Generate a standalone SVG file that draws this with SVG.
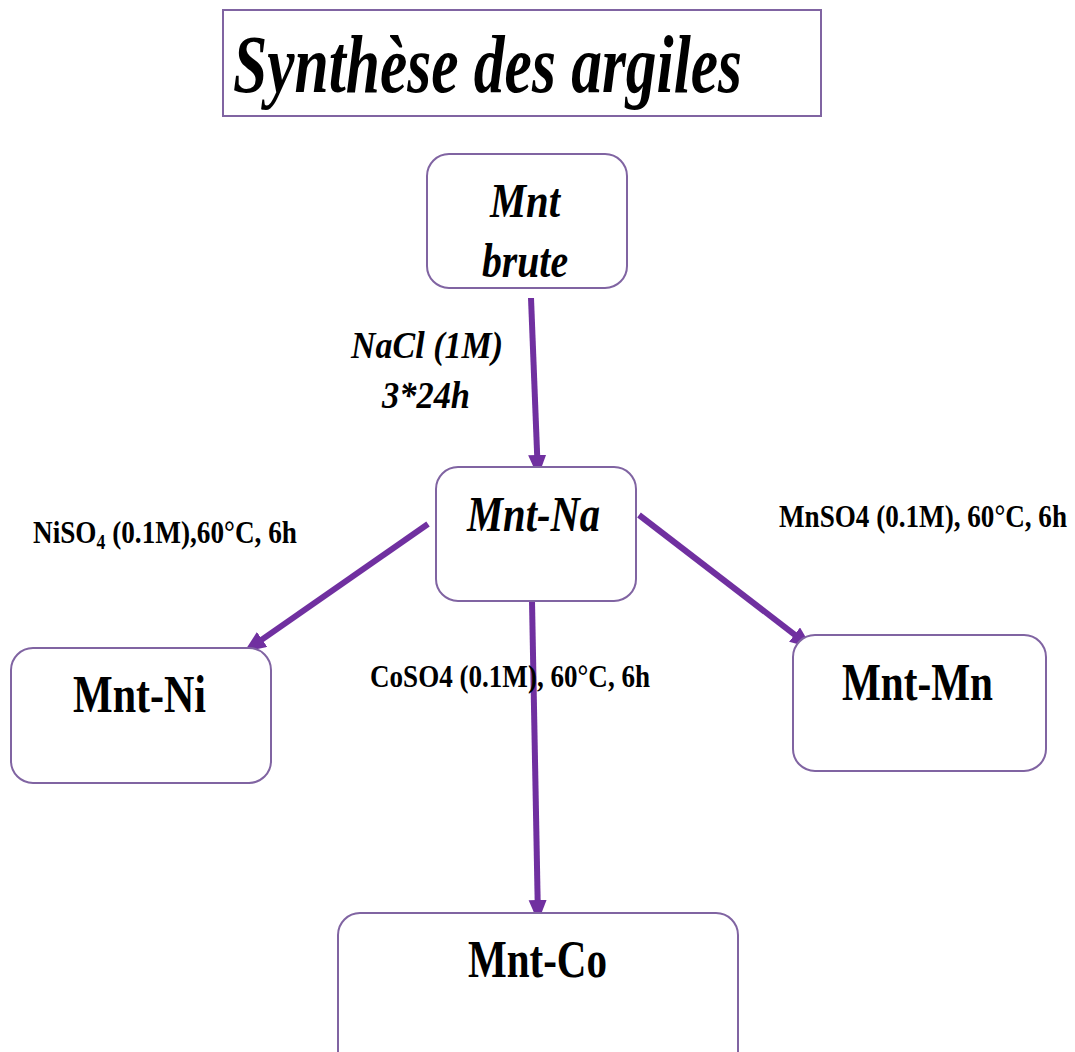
<svg xmlns="http://www.w3.org/2000/svg" width="1075" height="1052" viewBox="0 0 1075 1052">
  <style>
    .box { fill: #ffffff; stroke: #8064a2; stroke-width: 2; }
    .ttl { font-family: "Liberation Serif", "Times New Roman", serif; font-weight: bold; fill: #000000; }
    .it { font-style: italic; }
    .arrow { stroke: #7030a0; stroke-width: 6; fill: none; marker-end: url(#head); }
  </style>
  <defs>
    <marker id="head" markerUnits="userSpaceOnUse" markerWidth="24" markerHeight="20" refX="9" refY="9" orient="auto">
      <path d="M0,0 L22,9 L0,18 Z" fill="#7030a0"/>
    </marker>
  </defs>

  <rect width="1075" height="1052" fill="#ffffff"/>

  <!-- title -->
  <g id="title">
    <rect class="box" x="223" y="10" width="598" height="106"/>
    <text class="ttl it" x="233" y="92" font-size="82" textLength="509" lengthAdjust="spacingAndGlyphs">Synthèse des argiles</text>
  </g>

  <!-- connectors -->
  <g id="connectors">
    <line class="arrow" x1="531" y1="298" x2="537.5" y2="464"/>
    <line class="arrow" x1="428" y1="524" x2="254.7" y2="644.6"/>
    <line class="arrow" x1="639" y1="515" x2="801.7" y2="640.1"/>
    <line class="arrow" x1="532" y1="601" x2="537.8" y2="909"/>
  </g>

  <!-- connector labels -->
  <g id="labels">
    <text class="ttl it" x="351" y="358" font-size="38" textLength="152" lengthAdjust="spacingAndGlyphs">NaCl (1M)</text>
    <text class="ttl it" x="382" y="408" font-size="38" textLength="88" lengthAdjust="spacingAndGlyphs">3*24h</text>
    <text class="ttl" x="33" y="543" font-size="31" textLength="264" lengthAdjust="spacingAndGlyphs">NiSO<tspan font-size="20" dy="6">4</tspan><tspan dy="-6"> (0.1M),60°C, 6h</tspan></text>
    <text class="ttl" x="779" y="527" font-size="31" textLength="288" lengthAdjust="spacingAndGlyphs">MnSO4 (0.1M), 60°C, 6h</text>
    <text class="ttl" x="370" y="687" font-size="31" textLength="280" lengthAdjust="spacingAndGlyphs">CoSO4 (0.1M), 60°C, 6h</text>
  </g>

  <!-- nodes -->
  <g id="node-brute">
    <rect class="box" x="427" y="154" width="200" height="134" rx="22"/>
    <text class="ttl it" x="490" y="217" font-size="48" textLength="70" lengthAdjust="spacingAndGlyphs">Mnt</text>
    <text class="ttl it" x="482" y="277" font-size="48" textLength="86" lengthAdjust="spacingAndGlyphs">brute</text>
  </g>

  <g id="node-na">
    <rect class="box" x="436" y="467" width="200" height="134" rx="22"/>
    <text class="ttl it" x="467" y="531" font-size="51" textLength="133" lengthAdjust="spacingAndGlyphs">Mnt-Na</text>
  </g>

  <g id="node-ni">
    <rect class="box" x="11" y="648" width="260" height="135" rx="22"/>
    <text class="ttl" x="73" y="712" font-size="53" textLength="133" lengthAdjust="spacingAndGlyphs">Mnt-Ni</text>
  </g>

  <g id="node-mn">
    <rect class="box" x="793" y="635" width="253" height="136" rx="22"/>
    <text class="ttl" x="842" y="700" font-size="53" textLength="151" lengthAdjust="spacingAndGlyphs">Mnt-Mn</text>
  </g>

  <g id="node-co">
    <rect class="box" x="338" y="913" width="400" height="160" rx="22"/>
    <text class="ttl" x="468" y="977" font-size="53" textLength="139" lengthAdjust="spacingAndGlyphs">Mnt-Co</text>
  </g>
</svg>
